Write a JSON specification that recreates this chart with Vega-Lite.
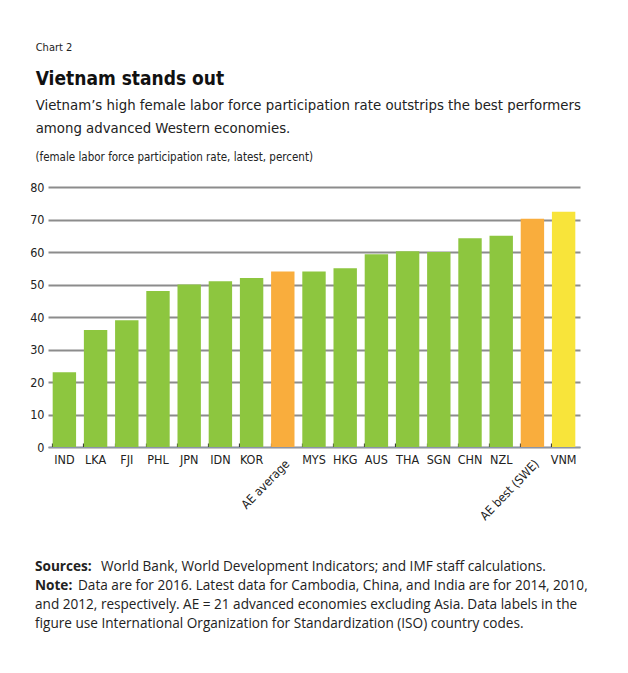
{
  "$schema": "https://vega.github.io/schema/vega-lite/v6.json",
  "autosize": {"type": "pad"},
  "padding": {"left": 29, "top": 42, "right": 10, "bottom": 10},
  "background": "white",
  "title": {
    "text": "Chart 2",
    "anchor": "start",
    "frame": "bounds",
    "dx": 6,
    "font": "DejaVu Sans Condensed, sans-serif",
    "fontSize": 11,
    "fontWeight": "normal",
    "color": "#222222",
    "offset": 17
  },
  "spacing": 34,
  "vconcat": [
    {
      "width": 532,
      "height": 260,
      "title": {
        "text": "Vietnam stands out",
        "subtitle": [
          "Vietnam’s high female labor force participation rate outstrips the best performers",
          "among advanced Western economies."
        ],
        "anchor": "start",
        "frame": "bounds",
        "dx": 6,
        "font": "DejaVu Sans Condensed, sans-serif",
        "fontSize": 19,
        "fontWeight": "bold",
        "color": "#111111",
        "subtitleFont": "DejaVu Sans Condensed, sans-serif",
        "subtitleFontSize": 14.8,
        "subtitleColor": "#222222",
        "subtitleLineHeight": 23,
        "subtitlePadding": 9,
        "offset": 15
      },
      "data": {
        "values": [
          {"label": "IND", "value": 23, "group": "country"},
          {"label": "LKA", "value": 36, "group": "country"},
          {"label": "FJI", "value": 39, "group": "country"},
          {"label": "PHL", "value": 48, "group": "country"},
          {"label": "JPN", "value": 50, "group": "country"},
          {"label": "IDN", "value": 51, "group": "country"},
          {"label": "KOR", "value": 52, "group": "country"},
          {"label": "AE average", "value": 54, "group": "AE"},
          {"label": "MYS", "value": 54, "group": "country"},
          {"label": "HKG", "value": 55, "group": "country"},
          {"label": "AUS", "value": 59.3, "group": "country"},
          {"label": "THA", "value": 60.2, "group": "country"},
          {"label": "SGN", "value": 60, "group": "country"},
          {"label": "CHN", "value": 64.2, "group": "country"},
          {"label": "NZL", "value": 65, "group": "country"},
          {"label": "AE best (SWE)", "value": 70.2, "group": "AE"},
          {"label": "VNM", "value": 72.4, "group": "VNM"}
        ]
      },
      "encoding": {
        "x": {
          "field": "label",
          "type": "nominal",
          "sort": null,
          "scale": {"paddingInner": 0.25, "paddingOuter": 0.15},
          "axis": {
            "title": null,
            "labelAngle": 0,
            "labelOverlap": false,
            "labelExpr": "datum.value === 'AE average' || datum.value === 'AE best (SWE)' ? '' : datum.label",
            "labelFont": "DejaVu Sans Condensed, sans-serif",
            "labelFontSize": 12.5,
            "labelColor": "#222222",
            "labelPadding": 10,
            "domainColor": "#8a94a8",
            "domainWidth": 1.2,
            "ticks": true,
            "tickColor": "#333333",
            "tickWidth": 1.2,
            "tickSize": -4,
            "bandPosition": 0
          }
        }
      },
      "layer": [
        {
          "mark": {"type": "bar"},
          "encoding": {
            "y": {
              "field": "value",
              "type": "quantitative",
              "scale": {"domain": [0, 80], "nice": false},
              "axis": {
                "values": [0, 10, 20, 30, 40, 50, 60, 70, 80],
                "title": "(female labor force participation rate, latest, percent)",
                "titleAngle": 0,
                "titleAlign": "left",
                "titleBaseline": "bottom",
                "titleX": -13,
                "titleY": -25,
                "titleFont": "DejaVu Sans Condensed, sans-serif",
                "titleFontSize": 11.5,
                "titleFontWeight": "normal",
                "titleColor": "#222222",
                "labelFont": "DejaVu Sans Condensed, sans-serif",
                "labelFontSize": 12.5,
                "labelColor": "#222222",
                "labelPadding": 4,
                "domain": false,
                "ticks": false,
                "grid": true,
                "gridColor": "#8c8c8c",
                "gridWidth": 2.2
              }
            },
            "color": {
              "field": "group",
              "type": "nominal",
              "scale": {"domain": ["country", "AE", "VNM"], "range": ["#8dc63f", "#f9ad3d", "#f8e43a"]},
              "legend": null
            }
          }
        },
        {
          "transform": [{"filter": "datum.group === 'AE'"}],
          "mark": {"type": "text", "angle": -46, "align": "right", "baseline": "middle", "dx": -7.5, "dy": 13.5, "font": "DejaVu Sans Condensed, sans-serif", "fontSize": 12.2, "color": "#222222"},
          "encoding": {
            "y": {
              "datum": 0,
              "type": "quantitative",
              "axis": {
                "values": [0, 10, 20, 30, 40, 50, 60, 70, 80],
                "title": "(female labor force participation rate, latest, percent)",
                "titleAngle": 0,
                "titleAlign": "left",
                "titleBaseline": "bottom",
                "titleX": -13,
                "titleY": -25,
                "titleFont": "DejaVu Sans Condensed, sans-serif",
                "titleFontSize": 11.5,
                "titleFontWeight": "normal",
                "titleColor": "#222222",
                "labelFont": "DejaVu Sans Condensed, sans-serif",
                "labelFontSize": 12.5,
                "labelColor": "#222222",
                "labelPadding": 4,
                "domain": false,
                "ticks": false,
                "grid": true,
                "gridColor": "#8c8c8c",
                "gridWidth": 2.2
              }
            },
            "text": {"field": "label"}
          }
        }
      ]
    },
    {
      "width": 560,
      "height": 76,
      "data": {
        "values": [
          {"line": 1, "bold": "Sources:", "rest": "World Bank, World Development Indicators; and IMF staff calculations."},
          {"line": 2, "bold": "Note:", "rest": "Data are for 2016. Latest data for Cambodia, China, and India are for 2014, 2010,"},
          {"line": 3, "bold": "", "rest": "and 2012, respectively. AE = 21 advanced economies excluding Asia. Data labels in the"},
          {"line": 4, "bold": "", "rest": "figure use International Organization for Standardization (ISO) country codes."}
        ]
      },
      "encoding": {
        "y": {"field": "line", "type": "ordinal", "axis": null, "scale": {"paddingInner": 0, "paddingOuter": 0}}
      },
      "layer": [
        {
          "mark": {"type": "text", "align": "left", "baseline": "middle", "dx": -13, "font": "Open Sans, sans-serif", "fontSize": 13.6, "fontWeight": "bold", "color": "#222222"},
          "encoding": {"x": {"value": 0}, "text": {"field": "bold"}}
        },
        {
          "transform": [{"filter": "datum.line === 1"}],
          "mark": {"type": "text", "align": "left", "baseline": "middle", "dx": 53, "font": "Open Sans, sans-serif", "fontSize": 13.6, "color": "#222222"},
          "encoding": {"x": {"value": 0}, "text": {"field": "rest"}}
        },
        {
          "transform": [{"filter": "datum.line === 2"}],
          "mark": {"type": "text", "align": "left", "baseline": "middle", "dx": 30, "font": "Open Sans, sans-serif", "fontSize": 13.6, "color": "#222222"},
          "encoding": {"x": {"value": 0}, "text": {"field": "rest"}}
        },
        {
          "transform": [{"filter": "datum.line > 2"}],
          "mark": {"type": "text", "align": "left", "baseline": "middle", "dx": -13, "font": "Open Sans, sans-serif", "fontSize": 13.6, "color": "#222222"},
          "encoding": {"x": {"value": 0}, "text": {"field": "rest"}}
        }
      ]
    }
  ],
  "config": {"view": {"stroke": null}}
}
